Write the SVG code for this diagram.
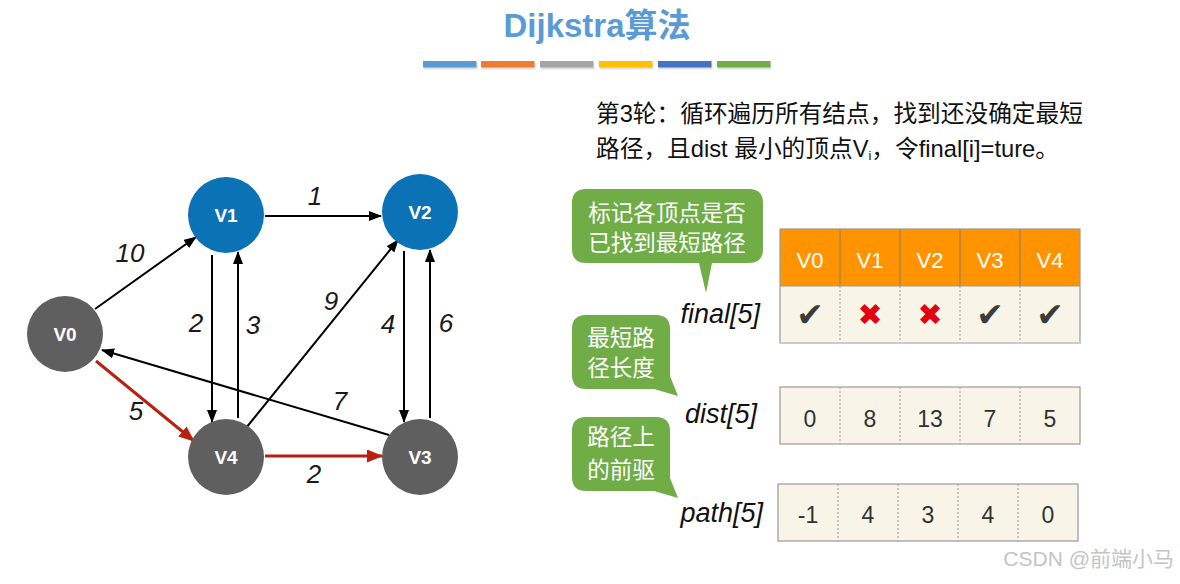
<svg xmlns="http://www.w3.org/2000/svg" width="1180" height="584" viewBox="0 0 1180 584">
<style>
  .title{font-family:"Liberation Sans","Noto Sans CJK SC",sans-serif;font-size:33px;font-weight:bold;fill:#5b9bd5}
  .node-blue{fill:#0b72b6}
  .node-gray{fill:#5f5f5f}
  .nlabel{font-family:"Liberation Sans",Arial,sans-serif;font-size:19px;font-weight:bold;fill:#fff;text-anchor:middle}
  .edge{stroke:#000;stroke-width:2;fill:none}
  .edge-red{stroke:#b82010;stroke-width:3;fill:none}
  .elabel{font-family:"Liberation Sans",Arial,sans-serif;font-size:26px;font-style:italic;fill:#1a1a1a;text-anchor:middle}
  .para{font-family:"Liberation Sans","Noto Sans CJK SC",sans-serif;font-size:23.7px;fill:#111}
  .bubble{fill:#70ad47}
  .btext{font-family:"Noto Sans CJK SC","Liberation Sans",sans-serif;font-size:22.5px;fill:#fff;text-anchor:middle}
  .arrlabel{font-family:"Liberation Sans",Arial,sans-serif;font-size:27px;font-style:italic;fill:#111;text-anchor:end}
  .hdr{fill:#ff9300}
  .cell{fill:#f8f5e8}
  .htext{font-family:"Liberation Sans",Arial,sans-serif;font-size:22px;fill:#fff;text-anchor:middle}
  .ctext{font-family:"Liberation Sans",Arial,sans-serif;font-size:23px;fill:#333;text-anchor:middle}
  .border{stroke:#999;stroke-width:1.2;fill:none}
  .hdiv{stroke:#8a7a6a;stroke-width:1}
  .ddiv{stroke:#999;stroke-width:1;stroke-dasharray:2 2}
  .check{font-family:"DejaVu Sans",sans-serif;font-size:33px;fill:#3c3c3c;text-anchor:middle}
  .cross{font-family:"DejaVu Sans",sans-serif;font-size:30px;fill:#e3000f;text-anchor:middle}
  .wm{font-family:"Liberation Sans","Noto Sans CJK SC",sans-serif;font-size:21px;fill:#c4c4c4;text-anchor:end}
</style>
<defs>
  <marker id="arr" markerUnits="userSpaceOnUse" markerWidth="13" markerHeight="10" viewBox="0 0 13 10" refX="12" refY="5" orient="auto">
    <path d="M0,0 L13,5 L0,10 z" fill="#000"/>
  </marker>
  <marker id="arrRed" markerUnits="userSpaceOnUse" markerWidth="16" markerHeight="13" viewBox="0 0 16 13" refX="15" refY="6.5" orient="auto">
    <path d="M0,0 L16,6.5 L0,13 z" fill="#b82010"/>
  </marker>
</defs>
<rect width="1180" height="584" fill="#fff"/>

<g id="title">
  <text class="title" x="597" y="37" text-anchor="middle">Dijkstra算法</text>
  <g id="bars">
    <rect x="424" y="63" width="53.5" height="6.5" fill="#000" opacity="0.12"/>
    <rect x="482" y="63" width="53.5" height="6.5" fill="#000" opacity="0.12"/>
    <rect x="541" y="63" width="53.5" height="6.5" fill="#000" opacity="0.12"/>
    <rect x="600" y="63" width="53.5" height="6.5" fill="#000" opacity="0.12"/>
    <rect x="659" y="63" width="53.5" height="6.5" fill="#000" opacity="0.12"/>
    <rect x="718" y="63" width="53.5" height="6.5" fill="#000" opacity="0.12"/>
    <rect x="423" y="61" width="53.5" height="6.5" fill="#5b9bd5"/>
    <rect x="481" y="61" width="53.5" height="6.5" fill="#ed7d31"/>
    <rect x="540" y="61" width="53.5" height="6.5" fill="#a5a5a5"/>
    <rect x="599" y="61" width="53.5" height="6.5" fill="#ffc000"/>
    <rect x="658" y="61" width="53.5" height="6.5" fill="#4472c4"/>
    <rect x="717" y="61" width="53.5" height="6.5" fill="#70ad47"/>
  </g>
</g>

<g id="connectors">
  <line class="edge" x1="95" y1="309" x2="196" y2="237" marker-end="url(#arr)"/>
  <line class="edge" x1="265" y1="216" x2="381" y2="216" marker-end="url(#arr)"/>
  <line class="edge" x1="212" y1="255" x2="212" y2="422" marker-end="url(#arr)"/>
  <line class="edge" x1="238" y1="418" x2="238" y2="252" marker-end="url(#arr)"/>
  <line class="edge" x1="246" y1="428" x2="398" y2="240" marker-end="url(#arr)"/>
  <line class="edge" x1="404" y1="251" x2="404" y2="422" marker-end="url(#arr)"/>
  <line class="edge" x1="430" y1="418" x2="430" y2="250" marker-end="url(#arr)"/>
  <line class="edge" x1="389" y1="435" x2="102" y2="350" marker-end="url(#arr)"/>
  <line class="edge-red" x1="96" y1="361" x2="194" y2="441" marker-end="url(#arrRed)"/>
  <line class="edge-red" x1="265" y1="456" x2="382" y2="456" marker-end="url(#arrRed)"/>
  <text class="elabel" x="130" y="262">10</text>
  <text class="elabel" x="315" y="205">1</text>
  <text class="elabel" x="196" y="332">2</text>
  <text class="elabel" x="253" y="334">3</text>
  <text class="elabel" x="331" y="310">9</text>
  <text class="elabel" x="388" y="333">4</text>
  <text class="elabel" x="446" y="332">6</text>
  <text class="elabel" x="340" y="410">7</text>
  <text class="elabel" x="136" y="420">5</text>
  <text class="elabel" x="314" y="483">2</text>
</g>

<g id="V0"><circle class="node-gray" cx="65" cy="334" r="38"/><text class="nlabel" x="65" y="341">V0</text></g>
<g id="V1"><circle class="node-blue" cx="226" cy="215" r="38"/><text class="nlabel" x="226" y="222">V1</text></g>
<g id="V2"><circle class="node-blue" cx="420" cy="212" r="38"/><text class="nlabel" x="420" y="219">V2</text></g>
<g id="V3"><circle class="node-gray" cx="420" cy="457" r="38"/><text class="nlabel" x="420" y="464">V3</text></g>
<g id="V4"><circle class="node-gray" cx="226" cy="457" r="38"/><text class="nlabel" x="226" y="464">V4</text></g>

<g id="description">
  <text class="para" x="596" y="122">第3轮：循环遍历所有结点，找到还没确定最短</text>
  <text class="para" x="596" y="157">路径，且dist 最小的顶点V<tspan font-size="13" dy="3">i</tspan><tspan dy="-3">，令final[i]=ture。</tspan></text>
</g>

<g id="callout-final">
  <path class="bubble" d="M586,189 H749 Q763,189 763,203 V249 Q763,263 749,263 H712 L706,293 L699,263 H586 Q572,263 572,249 V203 Q572,189 586,189 Z"/>
  <text class="btext" x="667" y="221">标记各顶点是否</text>
  <text class="btext" x="667" y="251">已找到最短路径</text>
</g>
<g id="callout-dist">
  <path class="bubble" d="M586,315 H656 Q670,315 670,329 V376 L678,396 L654,389 H586 Q572,389 572,375 V329 Q572,315 586,315 Z"/>
  <text class="btext" x="621" y="346">最短路</text>
  <text class="btext" x="621" y="376">径长度</text>
</g>
<g id="callout-path">
  <path class="bubble" d="M586,417 H656 Q670,417 670,431 V478 L678,498 L654,491 H586 Q572,491 572,477 V431 Q572,417 586,417 Z"/>
  <text class="btext" x="621" y="445">路径上</text>
  <text class="btext" x="621" y="478">的前驱</text>
</g>

<g id="table-final">
  <text class="arrlabel" x="760" y="323">final[5]</text>
  <rect class="hdr" x="780" y="229" width="300" height="57"/>
  <rect class="cell" x="780" y="286" width="300" height="57"/>
  <line class="hdiv" x1="840" y1="229" x2="840" y2="286"/>
  <line class="hdiv" x1="900" y1="229" x2="900" y2="286"/>
  <line class="hdiv" x1="960" y1="229" x2="960" y2="286"/>
  <line class="hdiv" x1="1020" y1="229" x2="1020" y2="286"/>
  <line class="ddiv" x1="840" y1="286" x2="840" y2="343"/>
  <line class="ddiv" x1="900" y1="286" x2="900" y2="343"/>
  <line class="ddiv" x1="960" y1="286" x2="960" y2="343"/>
  <line class="ddiv" x1="1020" y1="286" x2="1020" y2="343"/>
  <rect class="border" x="780" y="229" width="300" height="114"/>
  <line x1="780" y1="286" x2="1080" y2="286" stroke="#999" stroke-width="1"/>
  <line x1="780" y1="343" x2="1080" y2="343" stroke="#ccc" stroke-width="2"/>
  <text class="htext" x="810" y="268">V0</text>
  <text class="htext" x="870" y="268">V1</text>
  <text class="htext" x="930" y="268">V2</text>
  <text class="htext" x="990" y="268">V3</text>
  <text class="htext" x="1050" y="268">V4</text>
  <text class="check" x="810" y="326">✔</text>
  <text class="cross" x="870" y="325">✖</text>
  <text class="cross" x="930" y="325">✖</text>
  <text class="check" x="990" y="326">✔</text>
  <text class="check" x="1050" y="326">✔</text>
</g>

<g id="table-dist">
  <text class="arrlabel" x="757" y="423">dist[5]</text>
  <rect class="cell" x="780" y="387" width="300" height="57"/>
  <line class="ddiv" x1="840" y1="387" x2="840" y2="444"/>
  <line class="ddiv" x1="900" y1="387" x2="900" y2="444"/>
  <line class="ddiv" x1="960" y1="387" x2="960" y2="444"/>
  <line class="ddiv" x1="1020" y1="387" x2="1020" y2="444"/>
  <rect class="border" x="780" y="387" width="300" height="57"/>
  <text class="ctext" x="810" y="427">0</text>
  <text class="ctext" x="870" y="427">8</text>
  <text class="ctext" x="930" y="427">13</text>
  <text class="ctext" x="990" y="427">7</text>
  <text class="ctext" x="1050" y="427">5</text>
</g>

<g id="table-path">
  <text class="arrlabel" x="763" y="522">path[5]</text>
  <rect class="cell" x="778" y="484" width="300" height="57"/>
  <line class="ddiv" x1="838" y1="484" x2="838" y2="541"/>
  <line class="ddiv" x1="898" y1="484" x2="898" y2="541"/>
  <line class="ddiv" x1="958" y1="484" x2="958" y2="541"/>
  <line class="ddiv" x1="1018" y1="484" x2="1018" y2="541"/>
  <rect class="border" x="778" y="484" width="300" height="57"/>
  <text class="ctext" x="808" y="523">-1</text>
  <text class="ctext" x="868" y="523">4</text>
  <text class="ctext" x="928" y="523">3</text>
  <text class="ctext" x="988" y="523">4</text>
  <text class="ctext" x="1048" y="523">0</text>
</g>

<g id="watermark">
  <text class="wm" x="1174" y="566">CSDN @前端小马</text>
</g>
</svg>
